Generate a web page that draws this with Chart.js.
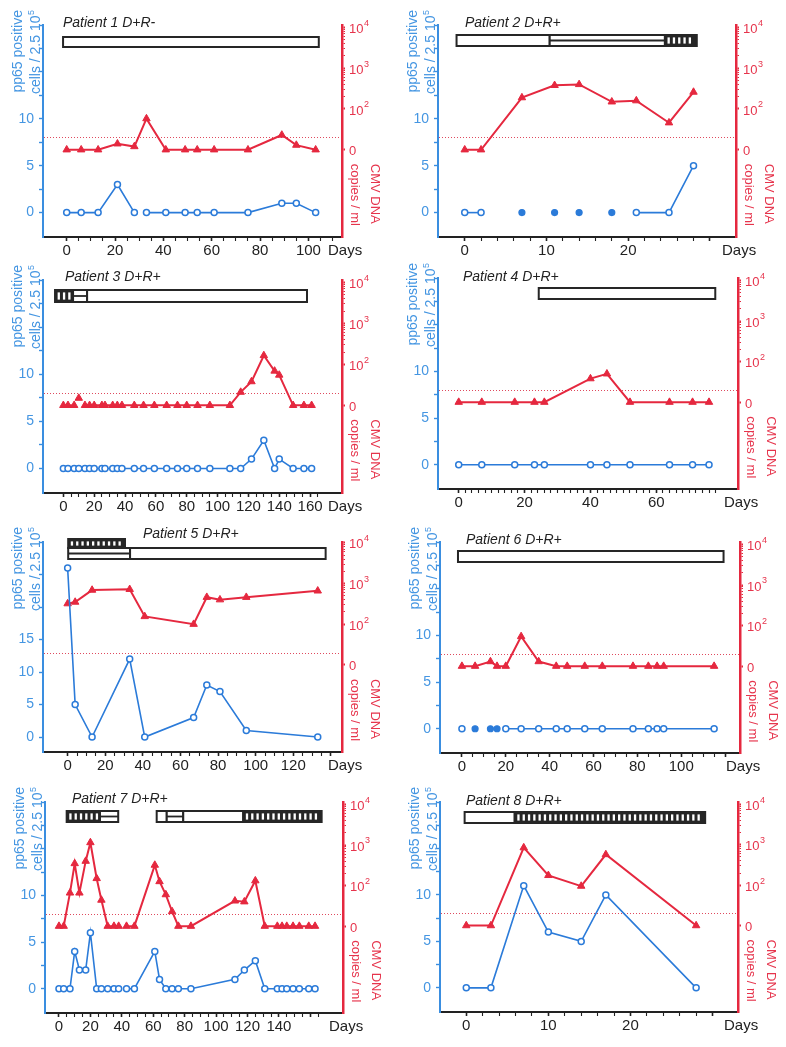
<!DOCTYPE html>
<html><head><meta charset="utf-8">
<script src="https://cdn.jsdelivr.net/npm/chart.js@4.4.1/dist/chart.umd.min.js"></script>
<style>
html,body{margin:0;padding:0;background:#fff;}
#fig{position:relative;width:786px;height:1047px;overflow:hidden;background:#fff;}
#fig canvas{position:absolute;}
</style></head><body><div id="fig"></div>
<script>
// ---------------- DATA ----------------
// CMV DNA in copies/ml (0 = undetectable, drawn on the "0" line); pp65 = positive cells / 2.5x10^5
const p1Days = [0, 6, 13, 21, 28, 33, 41, 49, 54, 61, 75, 89, 95, 103];
const p1PP65 = [0, 0, 0, 3, 0, 0, 0, 0, 0, 0, 0, 1, 1, 0];
const p1PP65Breaks = [5];
const p1CMV = [0, 0, 0, 14, 12, 58, 0, 0, 0, 0, 0, 23, 13, 0];
const p1Therapy = [[-1.5, 104.3, 'open']];

const p2PP65Days = [0, 2, 21, 25, 28];
const p2PP65 = [0, 0, 0, 0, 5];
const p2PP65Breaks = [2];
const p2PP65SingleDays = [7, 11, 14, 18];
const p2PP65Single = [0, 0, 0, 0];
const p2CMVDays = [0, 2, 7, 11, 14, 18, 21, 25, 28];
const p2CMV = [0, 0, 190, 380, 400, 150, 160, 46, 260];
const p2Therapy = [[-1, 10.4, 'open'], [10.4, 24.5, 'double'], [24.5, 28.4, 'striped']];

const p3Days = [0, 3, 7, 10, 14, 17, 20, 25, 27, 32, 35, 38, 46, 52, 59, 67, 74, 80, 87, 95, 108, 115, 122, 130, 137, 140, 149, 156, 161];
const p3PP65 = [0, 0, 0, 0, 0, 0, 0, 0, 0, 0, 0, 0, 0, 0, 0, 0, 0, 0, 0, 0, 0, 0, 1, 3, 0, 1, 0, 0, 0];
const p3CMV = [0, 0, 0, 15, 0, 0, 0, 0, 0, 0, 0, 0, 0, 0, 0, 0, 0, 0, 0, 0, 0, 21, 38, 165, 69, 55, 0, 0, 0];
const p3CMVBreaks = [3, 4];
const p3Therapy = [[-5.4, 6.3, 'striped'], [6.3, 15.4, 'double'], [15.4, 158, 'open']];

const p4Days = [0, 7, 17, 23, 26, 40, 45, 52, 64, 71, 76];
const p4PP65 = [0, 0, 0, 0, 0, 0, 0, 0, 0, 0, 0];
const p4CMV = [0, 0, 0, 0, 0, 38, 50, 0, 0, 0, 0];
const p4Therapy = [[24.3, 77.9, 'open']];

const p5Days = [0, 4, 13, 33, 41, 67, 74, 81, 95, 133];
const p5PP65 = [26, 5, 0, 12, 0, 3, 8, 7, 1, 0];
const p5CMV = [320, 350, 690, 720, 155, 100, 460, 400, 460, 660];
const p5Therapy = [[0.3, 30.5, 'striped', 0], [0.3, 33.2, 'double', 1], [33.2, 137.2, 'open', 1]];

const p6PP65Days = [0, 20, 27, 35, 43, 48, 56, 64, 78, 85, 89, 92, 115];
const p6PP65 = [0, 0, 0, 0, 0, 0, 0, 0, 0, 0, 0, 0, 0];
const p6PP65Breaks = [1];
const p6PP65SingleDays = [6, 13, 16];
const p6PP65Single = [0, 0, 0];
const p6CMVDays = [0, 6, 13, 16, 20, 27, 35, 43, 48, 56, 64, 78, 85, 89, 92, 115];
const p6CMV = [0, 0, 13, 0, 0, 54, 13, 0, 0, 0, 0, 0, 0, 0, 0, 0];
const p6Therapy = [[-1.8, 119.3, 'open']];

const p7Days = [0, 3, 7, 10, 13, 17, 20, 24, 27, 31, 35, 38, 43, 48, 61, 64, 68, 72, 76, 84, 112, 118, 125, 131, 139, 142, 145, 149, 153, 159, 163];
const p7PP65 = [0, 0, 0, 4, 2, 2, 6, 0, 0, 0, 0, 0, 0, 0, 4, 1, 0, 0, 0, 0, 1, 2, 3, 0, 0, 0, 0, 0, 0, 0, 0];
const p7CMV = [0, 0, 66, 350, 66, 400, 1150, 150, 44, 0, 0, 0, 0, 0, 320, 126, 60, 23, 0, 0, 42, 40, 132, 0, 0, 0, 0, 0, 0, 0, 0];
const p7Breaks = [12];
const p7Therapy = [[4.9, 26.1, 'striped'], [26.1, 37.7, 'double'], [62.2, 68.6, 'open'], [68.6, 79.1, 'double'], [79.1, 117.3, 'open'], [117.3, 167.2, 'striped']];

const p8Days = [0, 3, 7, 10, 14, 17, 28];
const p8PP65 = [0, 0, 11, 6, 5, 10, 0];
const p8CMV = [0, 0, 850, 175, 95, 575, 0];
const p8Therapy = [[-0.2, 5.9, 'open'], [5.9, 29.1, 'striped']];

const patientTitles = ['Patient 1 D+R-', 'Patient 2 D+R+', 'Patient 3 D+R+', 'Patient 4 D+R+',
                       'Patient 5 D+R+', 'Patient 6 D+R+', 'Patient 7 D+R+', 'Patient 8 D+R+'];
const cmvTickLabels = [[1, '0'], [2, '10', '2'], [3, '10', '3'], [4, '10', '4']];
const THRESHOLD = 20; // copies/ml

// ---------------- STYLE / LAYOUT ----------------
const FONT = '"Liberation Sans", Arial, Helvetica, sans-serif';
const BLUE = '#2b7bd9', BLUE_AX = '#3a8ee0', BLUE_TX = '#4596e2';
const RED = '#e5283f', RED_TX = '#e6344c', INK = '#222';
const ROW_TOP = [0, 258, 515, 775], ROW_H = [258, 257, 260, 272];
Chart.defaults.font.family = FONT;

const cmvAxis = c => (c > 10 ? Math.log10(c) : 1);
const pts = (days, vals, f) => days.map((d, i) => ({x: d, y: f ? f(vals[i]) : vals[i]}));

const std = {yMin: -2.6, yMax: 20, yStep: 2.5, yLabels: [0, 5, 10], y2Min: -1.14, y2Max: 4.06, barRows: [{top: 10, h: 11}]};
const panels = [
  {...std, row: 0, col: 0, L: 43, R: 342, T: 25, B: 237, xMin: -9.8, xMax: 113.9, xMajor: 20, xMinor: 5, xTickMax: 110, xLabelMax: 100,
   titleX: 63, titleY: 23, barRows: [{top: 12, h: 10}],
   pp: [p1Days, p1PP65, p1PP65Breaks], cmv: [p1Days, p1CMV, []], therapy: p1Therapy},
  {...std, row: 0, col: 1, L: 45, R: 343, T: 25, B: 237, xMin: -3.27, xMax: 33.2, xMajor: 10, xMinor: 2, xTickMax: 30, xLabelMax: 20,
   titleX: 72, titleY: 23,
   pp: [p2PP65Days, p2PP65, p2PP65Breaks], single: [p2PP65SingleDays, p2PP65Single], cmv: [p2CMVDays, p2CMV, []], therapy: p2Therapy},
  {...std, row: 1, col: 0, L: 43, R: 342, T: 22, B: 235, xMin: -13.2, xMax: 180.7, xMajor: 20, xMinor: 5, xTickMax: 165, xLabelMax: 160,
   titleX: 65, titleY: 19, barRows: [{top: 10, h: 12}],
   pp: [p3Days, p3PP65, []], cmv: [p3Days, p3CMV, p3CMVBreaks], therapy: p3Therapy},
  {...std, row: 1, col: 1, L: 45, R: 345, T: 20, B: 231, xMin: -6.29, xMax: 84.8, xMajor: 20, xMinor: 2, xTickMax: 78, xLabelMax: 60,
   titleX: 70, titleY: 19,
   pp: [p4Days, p4PP65, []], cmv: [p4Days, p4CMV, []], therapy: p4Therapy},
  {...std, row: 2, col: 0, L: 43, R: 342, T: 27, B: 237, xMin: -13.1, xMax: 145.9, xMajor: 20, xMinor: 5, xTickMax: 140, xLabelMax: 120,
   yMin: -2.3, yMax: 30, yStep: 5, yLabels: [0, 5, 10, 15], y2Max: 4.02,
   titleX: 143, titleY: 19, barRows: [{top: -3, h: 9}, {top: 6, h: 11}],
   pp: [p5Days, p5PP65, []], cmv: [p5Days, p5CMV, []], therapy: p5Therapy},
  {...std, row: 2, col: 1, L: 47, R: 347, T: 27, B: 238, xMin: -10, xMax: 126.8, xMajor: 20, xMinor: 5, xTickMax: 120, xLabelMax: 100,
   titleX: 73, titleY: 25, barRows: [{top: 9, h: 11}],
   pp: [p6PP65Days, p6PP65, p6PP65Breaks], single: [p6PP65SingleDays, p6PP65Single], cmv: [p6CMVDays, p6CMV, []], therapy: p6Therapy},
  {...std, row: 3, col: 0, L: 45, R: 343, T: 27, B: 238, xMin: -8.9, xMax: 180.8, xMajor: 20, xMinor: 5, xTickMax: 165, xLabelMax: 140,
   titleX: 72, titleY: 24, barRows: [{top: 9, h: 11}],
   pp: [p7Days, p7PP65, p7Breaks], cmv: [p7Days, p7CMV, p7Breaks], therapy: p7Therapy},
  {...std, row: 3, col: 1, L: 47, R: 345, T: 27, B: 237, xMin: -3.2, xMax: 33.1, xMajor: 10, xMinor: 2, xTickMax: 30, xLabelMax: 20,
   titleX: 73, titleY: 26,
   pp: [p8Days, p8PP65, []], cmv: [p8Days, p8CMV, []], therapy: p8Therapy}
];

function range(a, b, s) { const r = []; for (let v = a; v <= b + 1e-9; v += s) r.push(Math.round(v * 1000) / 1000); return r; }
const isMult = (v, m) => Math.abs(v / m - Math.round(v / m)) < 1e-6;
const logTicks = [1, 2, 3, 4];
[2, 3].forEach(k => { for (let m = 2; m <= 9; m++) logTicks.push(k + Math.log10(m)); });

function drawBar(ctx, x1, x2, y, h, type) {
  ctx.save();
  ctx.fillStyle = '#fff';
  ctx.fillRect(x1, y, x2 - x1, h);
  if (type === 'striped') {
    ctx.fillStyle = '#262626';
    ctx.fillRect(x1, y, x2 - x1, h);
    ctx.fillStyle = '#fff';
    for (let x = x1 + 2.6; x + 2.2 <= x2 - 1.8; x += 5.3) ctx.fillRect(x, y + 2.4, 2.3, h - 4.8);
  }
  if (type === 'double') {
    ctx.strokeStyle = '#262626'; ctx.lineWidth = 1.8;
    ctx.beginPath(); ctx.moveTo(x1, y + h / 2); ctx.lineTo(x2, y + h / 2); ctx.stroke();
  }
  ctx.strokeStyle = '#262626'; ctx.lineWidth = 2;
  ctx.strokeRect(x1, y, x2 - x1, h);
  ctx.restore();
}

function makePanel(p, idx) {
  const W = 393, H = ROW_H[p.row];
  const cv = document.createElement('canvas');
  cv.width = W; cv.height = H;
  cv.style.left = (p.col * 393) + 'px'; cv.style.top = ROW_TOP[p.row] + 'px';
  cv.style.width = W + 'px'; cv.style.height = H + 'px';
  document.getElementById('fig').appendChild(cv);

  const xTicks = range(0, p.xTickMax, p.xMinor);
  const yTicks = range(0, p.yMax, p.yStep);
  const brk = list => (c => (list.includes(c.p1DataIndex) ? 'rgba(0,0,0,0)' : undefined));

  const datasets = [{
    label: 'pp65 positive cells', data: pts(p.pp[0], p.pp[1]), yAxisID: 'y',
    borderColor: BLUE, backgroundColor: '#fff', borderWidth: 1.6, tension: 0,
    pointStyle: 'circle', pointRadius: 3, pointBorderWidth: 1.5, pointBackgroundColor: '#fff', pointBorderColor: BLUE,
    segment: {borderColor: brk(p.pp[2])}
  }];
  if (p.single) datasets.push({
    label: 'pp65 single', data: pts(p.single[0], p.single[1]), yAxisID: 'y', showLine: false,
    borderColor: BLUE, pointRadius: 3, pointBorderWidth: 1.2, pointBackgroundColor: BLUE, pointBorderColor: BLUE
  });
  datasets.push({
    label: 'CMV DNA', data: pts(p.cmv[0], p.cmv[1], cmvAxis), yAxisID: 'y2',
    borderColor: RED, backgroundColor: RED, borderWidth: 2, tension: 0,
    pointStyle: 'triangle', pointRadius: 4.3, pointBorderWidth: 1, pointBackgroundColor: RED, pointBorderColor: RED,
    segment: {borderColor: brk(p.cmv[2])}
  });

  const deco = {
    id: 'deco' + idx,
    beforeDatasetsDraw(chart) {
      const {ctx, chartArea: a, scales: {y2}} = chart;
      const y = Math.round(y2.getPixelForValue(Math.log10(THRESHOLD))) + 0.5;
      ctx.save();
      ctx.strokeStyle = '#df4a5e'; ctx.lineWidth = 1; ctx.setLineDash([1, 2]);
      ctx.beginPath(); ctx.moveTo(a.left + 1, y); ctx.lineTo(a.right - 1, y); ctx.stroke();
      ctx.restore();
    },
    afterDraw(chart) {
      const {ctx, chartArea: a, scales: {x, y2}} = chart;
      ctx.save();
      // therapy bars
      p.therapy.forEach(t => {
        const r = p.barRows[t[3] || 0];
        drawBar(ctx, x.getPixelForValue(t[0]), x.getPixelForValue(t[1]), a.top + r.top, r.h, t[2]);
      });
      // patient title
      ctx.fillStyle = INK; ctx.font = 'italic 14px ' + FONT;
      ctx.textAlign = 'left'; ctx.textBaseline = 'middle';
      ctx.fillText(patientTitles[idx], p.titleX, p.titleY);
      // Days
      ctx.font = '15px ' + FONT;
      ctx.fillText('Days', a.right - 14, a.bottom + 14);
      // right tick labels
      ctx.fillStyle = RED_TX;
      cmvTickLabels.forEach(([v, base, sup]) => {
        const y = y2.getPixelForValue(v);
        ctx.font = '13px ' + FONT; ctx.textAlign = 'left';
        ctx.fillText(base, a.right + 7, y + 2);
        if (sup) {
          const w = ctx.measureText(base).width;
          ctx.font = '9px ' + FONT;
          ctx.fillText(sup, a.right + 7 + w + 0.5, y - 4);
        }
      });
      // right axis title
      const ty = y2.getPixelForValue(1) + 14;
      ctx.font = '13px ' + FONT; ctx.textAlign = 'left';
      [['CMV DNA', 33], ['copies / ml', 13]].forEach(([s, dx]) => {
        ctx.save(); ctx.translate(a.right + dx, ty); ctx.rotate(Math.PI / 2);
        ctx.fillText(s, 0, 0); ctx.restore();
      });
      // left axis title
      ctx.fillStyle = BLUE_TX;
      const top = a.top - 15;
      ctx.save(); ctx.translate(a.left - 25, top); ctx.rotate(-Math.PI / 2);
      ctx.font = '14px ' + FONT; ctx.textAlign = 'right';
      ctx.fillText('pp65 positive', 0, 0); ctx.restore();
      ctx.save(); ctx.translate(a.left - 6.5, top); ctx.rotate(-Math.PI / 2);
      ctx.font = '9px ' + FONT; const ws = ctx.measureText('5').width;
      ctx.font = '14px ' + FONT; const wm = ctx.measureText('cells / 2.5 10').width;
      ctx.textAlign = 'left';
      ctx.fillText('cells / 2.5 10', -(wm + ws + 0.5), 0);
      ctx.font = '9px ' + FONT;
      ctx.fillText('5', -ws, -5);
      ctx.restore();
      ctx.restore();
    }
  };

  new Chart(cv, {
    type: 'line',
    data: {datasets},
    options: {
      responsive: false, animation: false, devicePixelRatio: 1,
      layout: {padding: {top: p.T, left: 0, right: 0, bottom: 0}, autoPadding: false},
      plugins: {legend: {display: false}, tooltip: {enabled: false}, title: {display: false}},
      scales: {
        x: {
          type: 'linear', position: 'bottom', min: p.xMin, max: p.xMax,
          afterBuildTicks: s => { s.ticks = xTicks.map(v => ({value: v})); },
          afterFit: s => { s.height = H - p.B; },
          ticks: {autoSkip: false, maxRotation: 0, padding: 1, color: INK, font: {family: FONT, size: 15},
                  callback: v => (isMult(v, p.xMajor) && v <= p.xLabelMax ? String(v) : '')},
          grid: {drawOnChartArea: false, drawTicks: true, tickLength: 4, tickColor: INK,
                 tickWidth: c => (c.tick && isMult(c.tick.value, p.xMajor) ? 1.6 : 1.1)},
          border: {display: true, color: INK, width: 2}
        },
        y: {
          type: 'linear', position: 'left', min: p.yMin, max: p.yMax,
          afterBuildTicks: s => { s.ticks = yTicks.map(v => ({value: v})); },
          afterFit: s => { s.width = p.L; },
          ticks: {autoSkip: false, padding: 5, color: BLUE_TX, font: {family: FONT, size: 14},
                  callback: v => (p.yLabels.includes(v) ? String(v) : '')},
          grid: {drawOnChartArea: false, drawTicks: true, tickLength: 4, tickColor: BLUE_AX, tickWidth: 1.4},
          border: {display: true, color: BLUE_AX, width: 2}
        },
        y2: {
          type: 'linear', position: 'right', min: p.y2Min, max: p.y2Max,
          afterBuildTicks: s => { s.ticks = logTicks.map(v => ({value: v})); },
          afterFit: s => { s.width = W - p.R; },
          ticks: {autoSkip: false, callback: () => ''},
          grid: {drawOnChartArea: false, drawTicks: true, tickLength: 3, tickColor: RED,
                 tickWidth: c => (c.tick && Number.isInteger(c.tick.value) ? 2 : 1)},
          border: {display: true, color: RED, width: 2.5}
        }
      }
    },
    plugins: [deco]
  });
}
panels.forEach(makePanel);
</script></body></html>
